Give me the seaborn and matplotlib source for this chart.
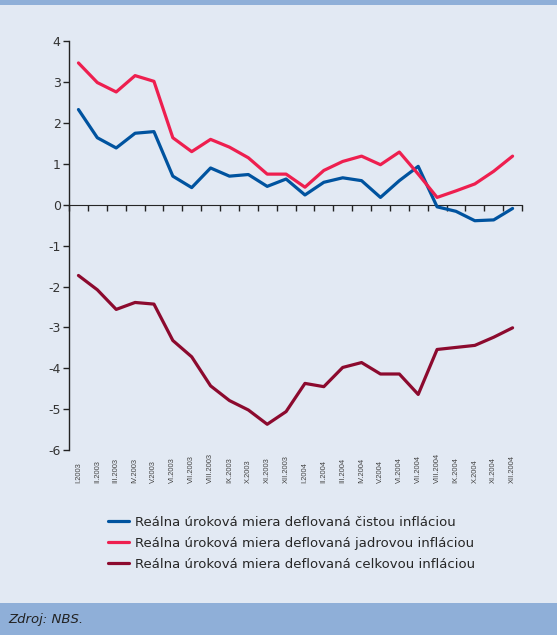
import numpy as np
import pandas as pd
import matplotlib
matplotlib.use("Agg")
import matplotlib.pyplot as plt
from matplotlib.patches import Rectangle
import seaborn as sns

# ============================================================================
# DATA
# ============================================================================
MONTHS = [
    "I.2003", "II.2003", "III.2003", "IV.2003", "V.2003", "VI.2003",
    "VII.2003", "VIII.2003", "IX.2003", "X.2003", "XI.2003", "XII.2003",
    "I.2004", "II.2004", "III.2004", "IV.2004", "V.2004", "VI.2004",
    "VII.2004", "VIII.2004", "IX.2004", "X.2004", "XI.2004", "XII.2004",
]

CISTA = [2.33, 1.64, 1.39, 1.75, 1.79, 0.70, 0.42, 0.90, 0.70, 0.74, 0.45, 0.63,
         0.24, 0.55, 0.66, 0.59, 0.18, 0.59, 0.94, -0.05, -0.16, -0.39, -0.37, -0.09]

JADROVA = [3.47, 2.99, 2.76, 3.16, 3.02, 1.64, 1.30, 1.60, 1.41, 1.15, 0.75, 0.75,
           0.43, 0.84, 1.06, 1.19, 0.98, 1.29, 0.75, 0.18, 0.34, 0.51, 0.82, 1.19]

CELKOVA = [-1.73, -2.08, -2.56, -2.39, -2.43, -3.32, -3.72, -4.43, -4.79, -5.02, -5.37, -5.06,
           -4.37, -4.45, -3.98, -3.86, -4.14, -4.14, -4.64, -3.54, -3.49, -3.44, -3.24, -3.01]

SERIES_NAMES = [
    "Reálna úroková miera deflovaná čistou infláciou",
    "Reálna úroková miera deflovaná jadrovou infláciou",
    "Reálna úroková miera deflovaná celkovou infláciou",
]
COLORS = ["#00539f", "#ee1f4f", "#8c0a2e"]
Y_TICKS = [-6, -5, -4, -3, -2, -1, 0, 1, 2, 3, 4]

BG = "#e2e9f3"
BAND = "#8fafd8"

# ============================================================================
# LONG TABLE FOR SEABORN
# ============================================================================
idx = np.arange(len(MONTHS))
df = pd.concat([
    pd.DataFrame({"poradie": idx, "hodnota": vals, "rad": name})
    for name, vals in zip(SERIES_NAMES, [CISTA, JADROVA, CELKOVA])
], ignore_index=True)

# ============================================================================
# PLOT
# ============================================================================
sns.set_style("white", {"axes.facecolor": BG, "figure.facecolor": BG})
plt.rcParams["font.family"] = ["DejaVu Sans"]

fig = plt.figure(figsize=(5.57, 6.35), dpi=100)
fig.patch.set_facecolor(BG)
ax = fig.add_axes([0.1239, 0.2913, 0.8133, 0.6437])
ax.set_facecolor(BG)

sns.lineplot(data=df, x="poradie", y="hodnota", hue="rad",
             palette=dict(zip(SERIES_NAMES, COLORS)), linewidth=2.3,
             ax=ax, legend=True)

ax.set_xlim(-0.5, len(MONTHS) - 0.5)
ax.set_ylim(-6, 4)
ax.set_xlabel("")
ax.set_ylabel("")

# y axis
ax.set_yticks(Y_TICKS)
ax.set_yticklabels([str(t) for t in Y_TICKS])
ax.tick_params(axis="y", direction="out", length=4, width=1, color="#222222",
               labelsize=9, labelcolor="#333333", pad=2, left=True)
ax.spines["left"].set_color("#222222")
ax.spines["left"].set_linewidth(1)
for s in ["top", "right", "bottom"]:
    ax.spines[s].set_visible(False)

# month labels at bottom, bottom-aligned like the original
ax.set_xticks(idx)
ax.set_xticklabels(MONTHS, rotation=90, fontsize=5.4, color="#444444",
                   family="Liberation Sans")
ax.tick_params(axis="x", length=0, pad=23.8)
plt.setp(ax.get_xticklabels(), va="bottom")

# zero line with category-boundary ticks pointing down
zero_axis = ax.secondary_xaxis(0.6)
zero_axis.set_xticks(np.arange(-0.5, len(MONTHS), 1.0))
zero_axis.set_xticklabels([])
zero_axis.tick_params(axis="x", direction="in", length=4, width=1, color="#222222")
zero_axis.spines["bottom"].set_color("#222222")
zero_axis.spines["bottom"].set_linewidth(1)

# legend below
handles, labels = ax.get_legend_handles_labels()
ax.legend(handles, labels, loc="upper left", bbox_to_anchor=(0.074, -0.148),
          frameon=False, fontsize=9.5, handlelength=1.6, handletextpad=0.45,
          labelspacing=0.6, borderaxespad=0)

# header / footer bands
fig.patches.append(Rectangle((0, 1 - 5 / 635), 1, 5 / 635, transform=fig.transFigure,
                             facecolor=BAND, edgecolor="none", zorder=0))
fig.patches.append(Rectangle((0, 0), 1, 32 / 635, transform=fig.transFigure,
                             facecolor=BAND, edgecolor="none", zorder=0))
fig.text(8 / 557, 16 / 635, "Zdroj: NBS.", fontsize=9.5, style="italic",
         color="#222222", va="center", ha="left")

fig.savefig("out.png", dpi=100, facecolor=BG)
